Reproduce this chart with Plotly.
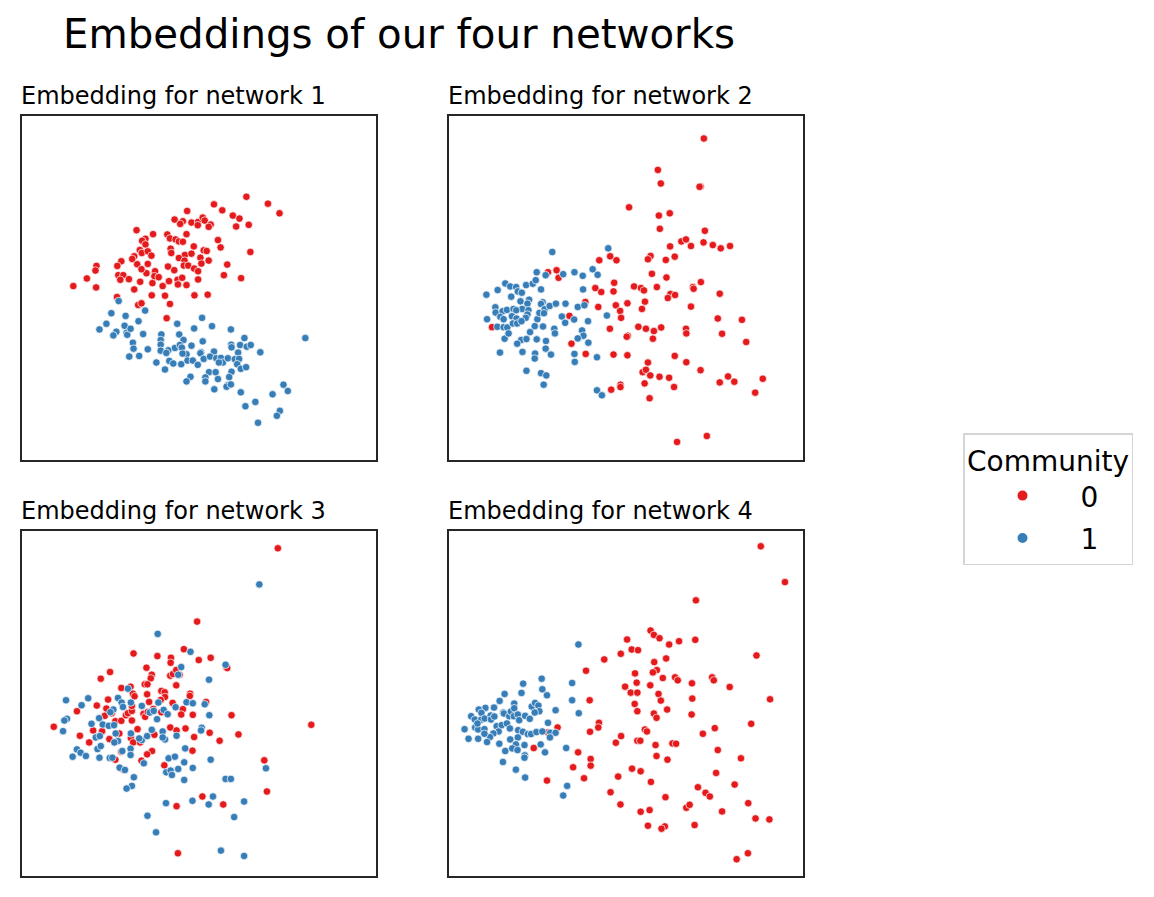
import plotly.graph_objects as go

# Embedding coordinates (arbitrary embedding units; y grows downward)
NET1_COMM0 = [(678,244),(743,265),(778,294),(580,267),(605,285),(637,301),(657,310),(685,329),(647,334),(499,287),(461,313),(486,318),(478,326),(512,322),(532,320),(546,307),(552,316),(570,328),(564,335),(531,330),(346,345),(396,357),(439,358),(497,357),(447,370),(464,373),(474,379),(486,380),(373,371),(363,377),(373,388),(592,375),(600,397),(519,394),(549,406),(558,408),(690,411),(356,405),(362,414),(380,409),(449,401),(451,414),(492,420),(512,416),(474,429),(491,437),(539,428),(564,437),(542,446),(391,422),(339,424),(333,432),(348,448),(380,447),(300,439),(288,453),(225,453),(222,467),(620,449),(441,455),(460,466),(489,452),(502,452),(520,461),(532,469),(402,469),(376,475),(361,463),(291,481),(306,481),(297,495),(323,493),(400,484),(413,487),(610,481),(662,490),(196,491),(155,514),(224,518),(357,501),(394,505),(425,514),(444,499),(470,495),(484,489),(471,509),(497,511),(532,494),(339,524),(392,542),(432,543),(521,542),(561,540),(287,547),(351,571),(361,566),(447,568),(437,611)]
NET1_COMM1 = [(292,559),(270,596),(313,604),(372,588),(544,610),(255,628),(234,645),(310,634),(285,652),(276,663),(316,655),(318,661),(328,643),(352,620),(366,659),(469,628),(520,642),(574,635),(631,645),(421,660),(419,677),(475,660),(488,677),(546,681),(672,671),(856,671),(335,685),(337,703),(380,705),(419,691),(419,709),(442,708),(436,716),(462,701),(477,692),(483,700),(512,694),(497,720),(485,718),(541,714),(539,717),(580,712),(632,691),(659,692),(679,697),(691,692),(633,699),(653,715),(720,714),(324,727),(354,725),(406,745),(445,740),(457,748),(481,750),(500,739),(516,739),(531,752),(549,734),(568,727),(587,732),(601,731),(607,745),(595,745),(622,732),(643,735),(656,734),(650,750),(661,764),(677,759),(432,766),(565,774),(585,774),(633,773),(509,788),(554,790),(497,802),(554,802),(592,795),(626,789),(622,813),(618,818),(631,811),(581,826),(661,835),(790,812),(803,831),(757,841),(705,864),(675,877),(779,891),(770,906),(713,927)]

NET2_COMM0 = [(770,68),(631,163),(640,204),(760,213),(757,214),(544,276),(634,301),(667,294),(637,341),(773,347),(769,382),(797,390),(821,400),(849,393),(702,379),(716,373),(731,393),(668,394),(609,423),(601,433),(682,425),(655,435),(454,436),(487,424),(506,436),(325,466),(299,472),(331,489),(613,477),(657,488),(761,502),(499,504),(442,520),(460,532),(497,530),(559,515),(580,520),(589,527),(628,517),(737,517),(739,522),(669,538),(661,550),(683,541),(818,537),(412,562),(451,577),(504,572),(517,589),(539,566),(592,561),(583,583),(731,576),(364,604),(520,610),(812,612),(885,616),(130,638),(486,643),(572,637),(595,643),(619,650),(641,639),(716,643),(717,657),(825,658),(540,664),(537,667),(616,673),(370,688),(898,683),(413,719),(497,721),(539,723),(682,725),(601,745),(717,744),(760,768),(585,774),(595,767),(608,784),(636,788),(665,791),(843,787),(862,803),(948,794),(518,812),(518,819),(490,827),(591,808),(680,819),(818,805),(925,836),(606,853),(779,967),(689,985)]
NET2_COMM1 = [(312,411),(481,400),(113,540),(147,526),(170,506),(185,515),(203,517),(188,546),(208,530),(220,534),(233,511),(253,507),(262,496),(265,472),(292,481),(278,524),(345,478),(379,472),(404,483),(434,463),(449,480),(405,524),(216,560),(242,555),(237,567),(221,583),(240,587),(237,600),(232,610),(140,578),(141,594),(162,590),(175,586),(195,583),(203,587),(155,607),(165,614),(190,605),(204,612),(115,614),(146,637),(165,638),(176,639),(193,627),(206,627),(219,620),(267,614),(273,595),(283,563),(278,568),(289,584),(287,596),(304,574),(323,567),(352,567),(389,577),(409,572),(341,606),(351,625),(378,615),(420,620),(477,603),(259,635),(284,636),(318,643),(320,657),(245,653),(218,677),(234,674),(265,675),(206,688),(168,673),(180,657),(293,680),(402,648),(406,664),(389,672),(421,685),(154,715),(222,713),(260,718),(259,733),(292,703),(308,721),(379,719),(380,743),(447,729),(234,770),(278,777),(294,784),(286,812),(447,829),(462,844)]

NET3_COMM0 = [(773,52),(529,273),(337,369),(409,377),(450,382),(449,397),(489,356),(534,389),(570,382),(617,410),(620,413),(266,425),(238,445),(376,412),(392,433),(389,444),(448,436),(456,431),(466,419),(476,433),(466,465),(371,462),(379,462),(300,473),(328,469),(335,490),(340,498),(378,492),(421,482),(431,486),(432,500),(419,509),(508,490),(507,497),(556,515),(226,526),(260,508),(255,535),(250,557),(166,543),(271,549),(282,573),(300,572),(314,555),(320,549),(332,542),(332,527),(367,551),(372,560),(380,545),(384,515),(397,536),(421,546),(455,518),(486,537),(481,553),(516,554),(633,555),(874,584),(96,590),(215,601),(242,603),(175,617),(203,637),(294,610),(264,627),(332,571),(349,597),(329,624),(336,637),(357,637),(400,614),(448,592),(467,601),(494,595),(520,621),(567,608),(597,632),(654,613),(515,662),(393,663),(378,673),(300,665),(282,689),(361,692),(430,706),(308,720),(732,691),(740,785),(545,800),(467,829),(608,824),(471,971)]
NET3_COMM1 = [(717,161),(410,310),(509,364),(481,410),(472,433),(615,403),(565,448),(320,475),(290,503),(301,517),(305,530),(329,517),(362,527),(133,510),(180,525),(200,504),(276,538),(267,546),(233,564),(210,581),(244,583),(136,566),(128,571),(124,603),(223,622),(235,618),(262,587),(278,585),(283,610),(290,633),(279,637),(329,610),(362,630),(354,625),(378,618),(392,599),(386,547),(398,542),(408,567),(412,517),(425,604),(428,539),(440,552),(432,628),(425,622),(464,531),(467,617),(497,516),(516,519),(552,522),(566,555),(543,593),(541,601),(493,655),(166,658),(177,668),(153,680),(193,678),(228,657),(238,648),(234,683),(265,684),(273,683),(303,663),(328,656),(328,675),(368,700),(443,685),(462,680),(490,697),(472,717),(516,714),(570,689),(436,727),(449,722),(453,735),(490,750),(295,713),(311,720),(338,742),(332,768),(316,776),(615,747),(631,747),(737,715),(577,800),(515,813),(564,824),(435,820),(671,815),(641,862),(379,858),(405,908),(601,963),(671,979)]

NET4_COMM0 = [(942,46),(1015,154),(746,209),(609,300),(619,313),(636,323),(538,327),(665,342),(695,332),(744,328),(552,357),(571,359),(519,370),(469,387),(656,384),(929,375),(414,421),(620,395),(628,419),(616,426),(562,429),(646,443),(683,441),(691,450),(795,441),(800,450),(734,459),(848,470),(567,457),(532,469),(608,465),(549,487),(569,487),(633,491),(640,511),(735,505),(970,507),(425,510),(561,521),(569,543),(659,538),(619,550),(627,563),(733,553),(913,581),(453,578),(451,592),(426,605),(328,592),(299,607),(592,598),(598,604),(520,618),(504,638),(569,632),(578,632),(803,594),(767,611),(624,645),(675,640),(686,641),(256,654),(390,667),(428,687),(428,707),(375,712),(627,678),(660,689),(812,660),(882,685),(553,716),(579,724),(511,740),(408,745),(296,752),(610,756),(807,729),(752,772),(775,789),(788,800),(863,764),(488,787),(654,802),(518,824),(717,834),(727,825),(606,841),(579,846),(825,845),(904,820),(926,866),(968,869),(601,888),(652,890),(642,897),(742,886),(903,971),(869,989)]
NET4_COMM1 = [(391,342),(280,445),(224,460),(282,477),(219,488),(168,491),(296,495),(372,458),(372,510),(153,512),(136,532),(110,533),(90,538),(98,548),(67,558),(78,568),(97,569),(108,565),(126,556),(127,568),(137,559),(164,547),(166,550),(182,558),(187,544),(197,520),(197,534),(196,558),(208,553),(212,570),(230,557),(244,566),(250,529),(260,518),(270,526),(273,543),(259,547),(322,540),(392,549),(47,597),(79,592),(88,598),(86,580),(107,597),(144,588),(159,585),(175,580),(184,595),(150,604),(134,610),(124,621),(107,611),(59,626),(88,626),(115,636),(152,641),(185,628),(209,600),(223,605),(238,612),(248,612),(264,606),(282,604),(306,608),(299,578),(322,608),(305,622),(208,622),(202,643),(228,645),(277,643),(191,655),(170,663),(207,660),(229,676),(228,683),(290,667),(163,696),(202,719),(230,743),(354,654),(357,768),(345,797)]

PANEL_TITLES = ["Embedding for network 1", "Embedding for network 2",
                "Embedding for network 3", "Embedding for network 4"]
COMMUNITIES = ["0", "1"]
MAIN_TITLE = "Embeddings of our four networks"
LEGEND_TITLE = "Community"

NETWORKS = [(NET1_COMM0, NET1_COMM1), (NET2_COMM0, NET2_COMM1),
            (NET3_COMM0, NET3_COMM1), (NET4_COMM0, NET4_COMM1)]
COLORS = ["#e41a1c", "#377eb8"]

W, H = 1154, 897
OFF = 7  # page offset of the figure inside the browser window
FONT = "DejaVu Sans"
# panel boxes in window pixels: (left, top, right, bottom)
BOXES = [(21, 115, 374.5, 458.5), (448, 115, 801.5, 458.5),
         (21, 530, 374.5, 874.5), (448, 530, 801.5, 874.5)]


def px(v):
    return (v - OFF) / W


def py(v):
    return 1 - (v - OFF) / H


fig = go.Figure()
layout = {}
annotations = []
for i, (pair, box) in enumerate(zip(NETWORKS, BOXES)):
    ax = "" if i == 0 else str(i + 1)
    for c, pts in enumerate(pair):
        fig.add_trace(go.Scatter(
            x=[p[0] for p in pts], y=[p[1] for p in pts],
            mode="markers", name=COMMUNITIES[c], legendgroup=COMMUNITIES[c],
            showlegend=(i == 0),
            marker=dict(size=7.5, color=COLORS[c], line=dict(color="white", width=0.7)),
            xaxis="x" + ax, yaxis="y" + ax, hoverinfo="skip"))
    l, t, r, b = box
    axcommon = dict(showgrid=False, zeroline=False, showticklabels=False, ticks="",
                    showline=True, mirror=True, linecolor="#262626", linewidth=1.5,
                    fixedrange=True)
    layout["xaxis" + ax] = dict(domain=[px(l), px(r)], range=[0, 1068],
                                anchor="y" + ax, **axcommon)
    layout["yaxis" + ax] = dict(domain=[py(b), py(t)], range=[1038, 0],
                                anchor="x" + ax, **axcommon)
    annotations.append(dict(text=PANEL_TITLES[i], x=px(l - 3), y=py(t - 4.5),
                            xref="paper", yref="paper", xanchor="left", yanchor="bottom",
                            showarrow=False, font=dict(size=24, color="black", family=FONT)))

annotations.append(dict(text=MAIN_TITLE, x=px(398), y=py(33), xref="paper", yref="paper",
                        xanchor="center", yanchor="middle", showarrow=False,
                        font=dict(size=40.3, color="black", family=FONT)))

fig.update_layout(
    width=W, height=H, margin=dict(l=0, r=0, t=0, b=0),
    plot_bgcolor="white", paper_bgcolor="white",
    font=dict(family=FONT, color="black"),
    annotations=annotations,
    legend=dict(title=dict(text=LEGEND_TITLE, font=dict(size=28, family=FONT), side="top center"),
                font=dict(size=28, family=FONT), x=px(962), y=py(432),
                xanchor="left", yanchor="top", bordercolor="#d5d5d5", borderwidth=1.5,
                bgcolor="white", itemsizing="constant", itemwidth=106,
                traceorder="grouped", tracegroupgap=3),
    **layout)

fig.write_html("out.html")
